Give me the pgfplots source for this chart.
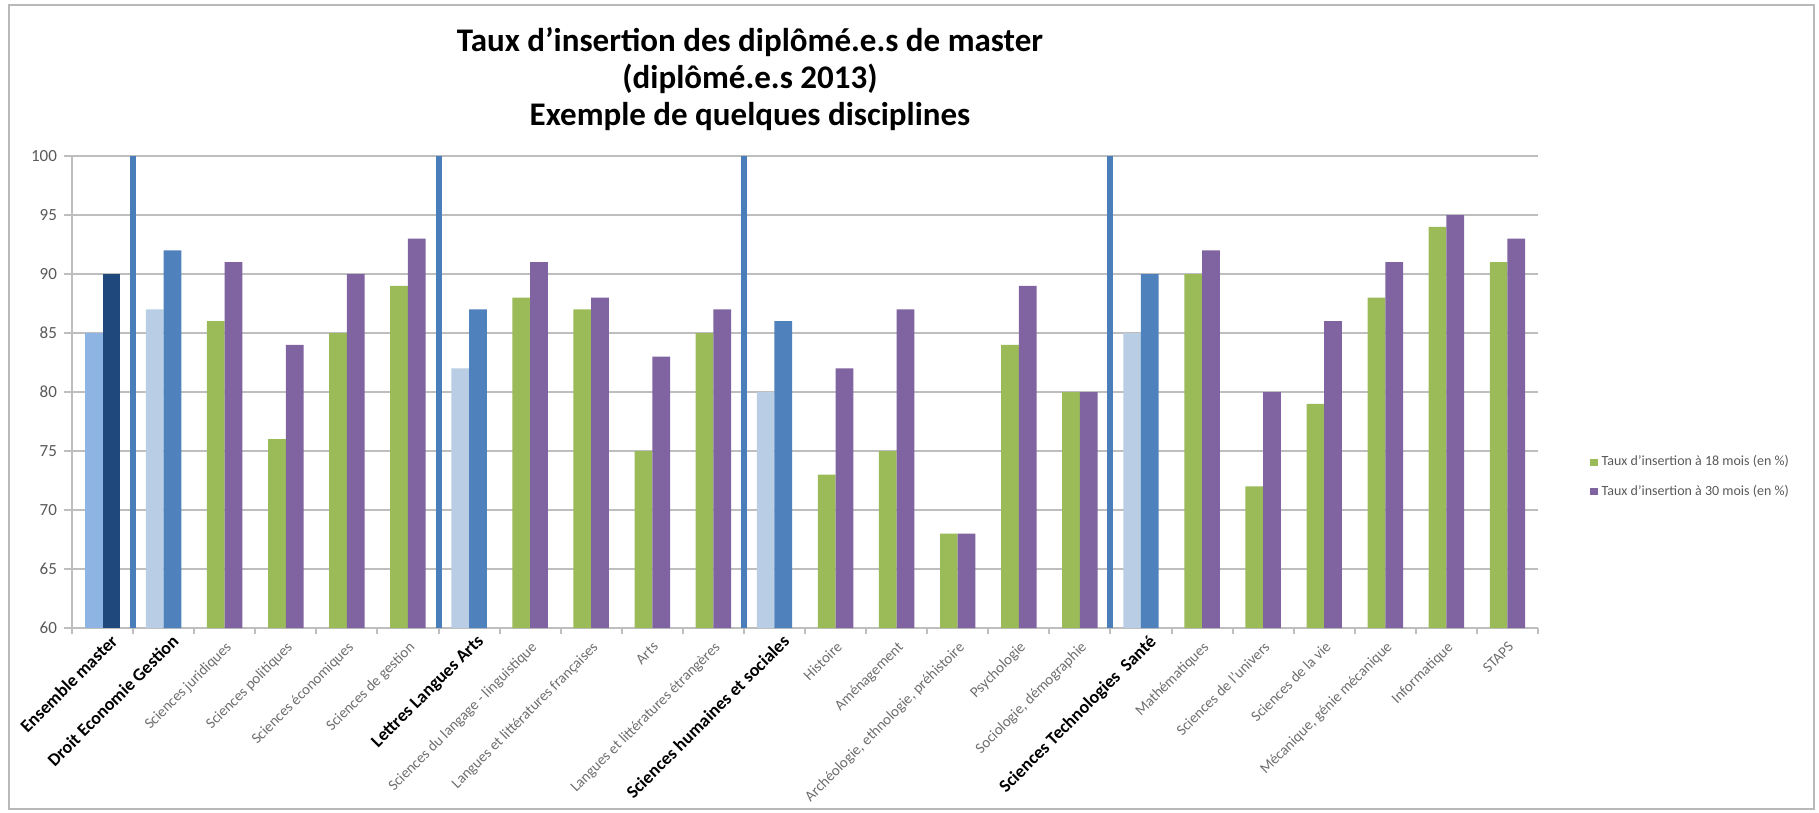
\documentclass[border=0pt]{standalone}
\usepackage{pgfplots}
\pgfplotsset{compat=1.18}
\usepackage{fontspec}
\setmainfont{Carlito}
\definecolor{cgreen}{HTML}{9BBB59}
\definecolor{cpurple}{HTML}{8064A2}
\definecolor{cblue}{HTML}{4F81BD}
\definecolor{clight}{HTML}{B9CDE5}
\definecolor{censl}{HTML}{8EB4E3}
\definecolor{censd}{HTML}{1F497D}
\definecolor{sepblue}{HTML}{4A7EBB}
\definecolor{gridgray}{HTML}{BEBEBE}
\definecolor{labgray}{HTML}{595959}
\definecolor{subgray}{HTML}{6E6E6E}
\newcommand{\grp}[1]{{\fontsize{9}{10}\selectfont\bfseries\color{black}#1\kern-5pt}}
\begin{document}
\begin{tikzpicture}
\path[use as bounding box] (0,0) rectangle (909.5pt,-406.5pt);
\draw[gray!55, line width=1pt] (4.5pt,-2.5pt) rectangle (907pt,-404.5pt);
\node[anchor=base, font=\fontsize{16.5}{19}\selectfont\bfseries] at (375pt,-26pt) {Taux d'insertion des diplômé.e.s de master};
\node[anchor=base, font=\fontsize{16.5}{19}\selectfont\bfseries] at (375pt,-44.5pt) {(diplômé.e.s 2013)};
\node[anchor=base, font=\fontsize{16.5}{19}\selectfont\bfseries] at (375pt,-63pt) {Exemple de quelques disciplines};
\begin{axis}[
  at={(36pt,-314pt)}, anchor=south west,
  scale only axis, width=733pt, height=236pt,
  xmin=-0.5, xmax=23.5, ymin=60, ymax=100,
  axis lines*=left,
  axis line style={draw=gridgray, line width=1pt},
  ytick={60,65,...,100},
  ymajorgrids,
  major grid style={draw=gridgray, line width=1pt},
  tick align=outside,
  major tick length=4pt,
  minor tick length=3pt,
  y tick style={draw=gridgray, line width=1pt},
  major x tick style={draw=none},
  minor x tick style={draw=gridgray, line width=1pt},
  xtick={0,...,23},
  minor xtick={-0.5,0.5,...,23.5},
  extra x ticks={0.5,5.5,10.5,16.5},
  extra x tick labels={},
  extra x tick style={grid=major, major tick length=0pt,
     major grid style={draw=sepblue, line width=3pt}},
  /pgf/number format/assume math mode=true,
  yticklabel style={font=\fontsize{8.5}{9}\selectfont, text=labgray},
  xticklabel style={rotate=45, anchor=north east, font=\fontsize{7.5}{8}\selectfont, text=subgray, inner sep=1.5pt},
  xticklabels={
    \grp{Ensemble master},
    \grp{Droit Economie Gestion},
    Sciences juridiques,
    Sciences politiques,
    Sciences économiques,
    Sciences de gestion,
    \grp{Lettres Langues Arts},
    Sciences du langage - linguistique,
    Langues et littératures françaises,
    Arts,
    Langues et littératures étrangères,
    \grp{Sciences humaines et sociales},
    Histoire,
    Aménagement,
    {Archéologie, ethnologie, préhistoire},
    Psychologie,
    {Sociologie, démographie},
    \grp{Sciences Technologies\ \ Santé},
    Mathématiques,
    Sciences de l'univers,
    Sciences de la vie,
    {Mécanique, génie mécanique},
    Informatique,
    STAPS},
  legend style={draw=none, fill=none, at={(1.0355,0.32)}, anchor=west,
    font=\fontsize{7}{8}\selectfont, text=labgray, row sep=4pt, inner sep=0pt},
  legend cell align=left,
  legend image code/.code={\fill[#1] (0pt,-1.8pt) rectangle (3.6pt,1.8pt);},
]
% Ensemble master
\addplot[ybar, bar width=0.29, bar shift=-0.145, fill=censl, draw=none, forget plot] coordinates {(0,85)};
\addplot[ybar, bar width=0.29, bar shift=0.145, fill=censd, draw=none, forget plot] coordinates {(0,90)};
% Group rows
\addplot[ybar, bar width=0.29, bar shift=-0.145, fill=clight, draw=none, forget plot] coordinates {(1,87) (6,82) (11,80) (17,85)};
\addplot[ybar, bar width=0.29, bar shift=0.145, fill=cblue, draw=none, forget plot] coordinates {(1,92) (6,87) (11,86) (17,90)};
% Disciplines
\addplot[ybar, bar width=0.29, bar shift=-0.145, fill=cgreen, draw=none] coordinates {
 (2,86) (3,76) (4,85) (5,89) (7,88) (8,87) (9,75) (10,85) (12,73) (13,75) (14,68) (15,84) (16,80)
 (18,90) (19,72) (20,79) (21,88) (22,94) (23,91)};
\addlegendentry{Taux d'insertion à 18 mois (en \%)}
\addplot[ybar, bar width=0.29, bar shift=0.145, fill=cpurple, draw=none] coordinates {
 (2,91) (3,84) (4,90) (5,93) (7,91) (8,88) (9,83) (10,87) (12,82) (13,87) (14,68) (15,89) (16,80)
 (18,92) (19,80) (20,86) (21,91) (22,95) (23,93)};
\addlegendentry{Taux d'insertion à 30 mois (en \%)}
\end{axis}
\end{tikzpicture}
\end{document}
